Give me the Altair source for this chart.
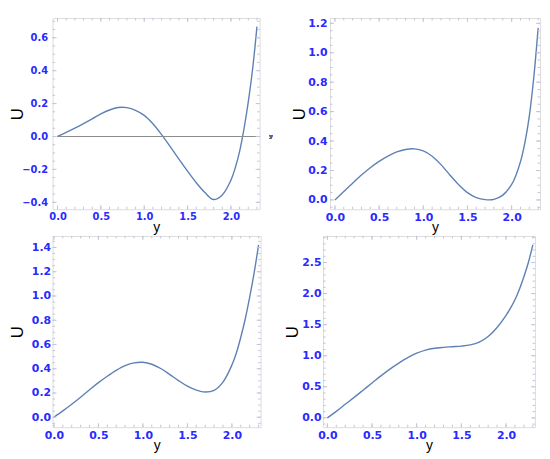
import altair as alt
import pandas as pd

# ---------------- data ----------------
ys = [0.0, 0.1, 0.2, 0.3, 0.4, 0.5, 0.6, 0.7, 0.8, 0.9, 1.0, 1.1, 1.2, 1.3,
      1.4, 1.5, 1.6, 1.7, 1.8, 1.9, 2.0, 2.05, 2.1, 2.15, 2.2, 2.25, 2.3]

u_a = [0.0, 0.025, 0.051, 0.078, 0.107, 0.137, 0.161, 0.176, 0.175, 0.159,
       0.128, 0.077, 0.011, -0.062, -0.137, -0.211, -0.281, -0.341, -0.383,
       -0.355, -0.265, -0.19, -0.09, 0.045, 0.21, 0.41, 0.668]
u_b = [0.0, 0.057, 0.114, 0.169, 0.219, 0.262, 0.298, 0.326, 0.343, 0.347,
       0.333, 0.297, 0.24, 0.17, 0.104, 0.05, 0.016, 0.002, 0.004, 0.033,
       0.105, 0.17, 0.26, 0.39, 0.57, 0.83, 1.169]
u_c = [0.0, 0.052, 0.107, 0.165, 0.226, 0.285, 0.338, 0.386, 0.425, 0.448,
       0.453, 0.437, 0.402, 0.354, 0.302, 0.256, 0.224, 0.208, 0.222, 0.29,
       0.43, 0.53, 0.66, 0.81, 0.99, 1.19, 1.422]
u_d = [0.0, 0.105, 0.218, 0.33, 0.445, 0.56, 0.676, 0.785, 0.882, 0.97,
       1.04, 1.09, 1.12, 1.135, 1.145, 1.155, 1.175, 1.22, 1.31, 1.455,
       1.65, 1.765, 1.9, 2.07, 2.27, 2.5, 2.785]

x_major = [0.0, 0.5, 1.0, 1.5, 2.0]
y_major_a = [-0.4, -0.2, 0.0, 0.2, 0.4, 0.6]
y_major_b = [0.0, 0.2, 0.4, 0.6, 0.8, 1.0, 1.2]
y_major_c = [0.0, 0.2, 0.4, 0.6, 0.8, 1.0, 1.2, 1.4]
y_major_d = [0.0, 0.5, 1.0, 1.5, 2.0, 2.5]

# ---------------- styling ----------------
CURVE = "#5e81b5"
FRAME = "#c3c3dc"
LABEL = "#2a2aff"
H = 193


def minor(dom, step):
    lo = int(round(dom[0] / step)) - 1
    hi = int(round(dom[1] / step)) + 1
    vals = [round(k * step, 4) for k in range(lo, hi + 1)]
    return [v for v in vals if dom[0] < v < dom[1]]


def panel(u, xdom, ydom, ymaj, ystep, W, lab_size, lpad, tpad,
          zero_axis=False):
    xs = alt.Scale(domain=xdom, nice=False, zero=False)
    yscale = alt.Scale(domain=ydom, nice=False, zero=False)
    df = pd.DataFrame({"y": ys, "U": u})
    lab = dict(labelFont="DejaVu Sans", labelFontWeight="bold",
               labelFontSize=lab_size, labelColor=LABEL, ticks=False,
               tickSize=0, domain=False, grid=False, labelFlush=False,
               format=".1f", titleFont="Liberation Sans",
               titleFontWeight="normal", titleColor="black")
    xaxis = alt.Axis(values=x_major, title="y", labelPadding=2,
                     titlePadding=0, titleFontSize=14, minExtent=12,
                     maxExtent=12, **lab)
    yaxis = alt.Axis(values=ymaj, title="U", labelPadding=lpad,
                     titlePadding=tpad, titleFontSize=17, minExtent=22,
                     maxExtent=22, **lab)
    line = alt.Chart(df).mark_line(color=CURVE, strokeWidth=1.4,
                                   interpolate="catmull-rom").encode(
        x=alt.X("y:Q", scale=xs, axis=xaxis, title="y"),
        y=alt.Y("U:Q", scale=yscale, axis=yaxis, title="U"),
    )
    layers = [line]
    if zero_axis:
        layers.append(alt.Chart(df).mark_rule(color="#8c8c8c", strokeWidth=1.1)
                      .encode(x=alt.datum(0, scale=xs, axis=xaxis, title="y"),
                              x2=alt.value(W),
                              y=alt.datum(0, scale=yscale, axis=yaxis, title="U")))
        layers.append(alt.Chart(df).mark_text(text="y", fontSize=6,
                                              color="#666666", align="left",
                                              font="Liberation Sans")
                      .encode(x=alt.value(W + 10),
                              y=alt.datum(0, scale=yscale, axis=yaxis, title="U")))

    xmin = minor(xdom, 0.1)
    ymin = minor(ydom, ystep)
    for vals, L in ((x_major, 4), (xmin, 2.5)):
        d = pd.DataFrame({"v": vals})
        for a, b in ((H, H - L), (0, L)):
            layers.append(alt.Chart(d).mark_rule(color=FRAME, strokeWidth=1)
                          .encode(x=alt.X("v:Q", scale=xs, axis=xaxis, title="y"),
                                  y=alt.value(a), y2=alt.value(b)))
    for vals, L in ((ymaj, 4), (ymin, 2.5)):
        d = pd.DataFrame({"v": vals})
        for a, b in ((0, L), (W, W - L)):
            layers.append(alt.Chart(d).mark_rule(color=FRAME, strokeWidth=1)
                          .encode(y=alt.Y("v:Q", scale=yscale, axis=yaxis, title="U"),
                                  x=alt.value(a), x2=alt.value(b)))
    return alt.layer(*layers).properties(width=W, height=H)


p1 = panel(u_a, [-0.057, 2.331], [-0.442, 0.72], y_major_a, 0.05, 209, 10,
           5, 4, zero_axis=True)
p2 = panel(u_b, [-0.056, 2.321], [-0.063, 1.236], y_major_b, 0.05, 212, 11,
           3, 0)
p3 = panel(u_c, [-0.015, 2.323], [-0.082, 1.495], y_major_c, 0.05, 210, 11,
           2, 4)
p4 = panel(u_d, [-0.048, 2.325], [-0.15, 2.927], y_major_d, 0.1, 214, 11,
           2, 0)

row1 = alt.hconcat(p1, p2, spacing=16)
row2 = alt.hconcat(p3, p4, spacing=20)
chart = alt.vconcat(row1, row2, spacing=-4).properties(
    padding={"left": 0, "top": 6, "right": 0, "bottom": 0}
).configure_view(stroke=FRAME, strokeWidth=1).configure(background="white")

chart.save("out.html", embed_options={"renderer": "svg", "actions": False})
